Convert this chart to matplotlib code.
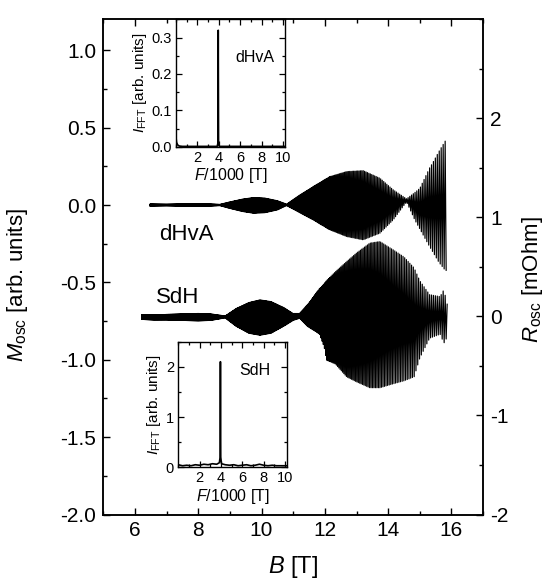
import numpy as np
import matplotlib
matplotlib.use('Agg')
import matplotlib.pyplot as plt
from matplotlib.ticker import MultipleLocator, FormatStrFormatter

plt.rcParams['font.family'] = ['Liberation Sans', 'DejaVu Sans']
plt.rcParams['mathtext.fontset'] = 'custom'
plt.rcParams['mathtext.rm'] = 'Liberation Sans'
plt.rcParams['mathtext.it'] = 'Liberation Sans:italic'
plt.rcParams['axes.unicode_minus'] = False

# ---- oscillation frequency (peak of the FFT, in T) ----
F_OSC = 3950.0

# ---- dHvA envelope, M_osc [arb. units] vs B [T] ----
dhva_B = [6.47, 7.0, 7.5, 8.0, 8.4, 8.68, 9.0, 9.4, 9.74, 10.1, 10.5, 10.79,
          11.21, 11.63, 12.15, 12.69, 13.21, 13.74, 14.16, 14.58, 14.84, 15.0,
          15.31, 15.4, 15.6, 15.81, 15.85]
dhva_top = [0.006, 0.005, 0.007, 0.008, 0.007, 0.004, 0.02, 0.038, 0.048, 0.045,
            0.028, 0.006, 0.065, 0.119, 0.183, 0.216, 0.222, 0.173, 0.098, 0.04,
            0.08, 0.108, 0.24, 0.27, 0.345, 0.416, 0.40]
dhva_bot = [-0.006, -0.005, -0.007, -0.008, -0.007, -0.004, -0.022, -0.042, -0.053,
            -0.05, -0.032, -0.004, -0.05, -0.096, -0.16, -0.204, -0.225, -0.182,
            -0.096, 0.02, -0.096, -0.155, -0.27, -0.30, -0.37, -0.424, -0.42]

# ---- SdH envelope, R_osc [mOhm] vs B [T] ----
sdh_B = [6.21, 6.6, 7.0, 7.5, 8.0, 8.4, 8.85, 9.2, 9.6, 9.95, 10.3, 10.7, 11.0,
         11.2, 11.45, 11.84, 11.98, 12.05, 12.33, 12.69, 13.0, 13.42, 13.74, 14.16,
         14.5, 14.82, 15.0, 15.31, 15.64, 15.76, 15.88]
sdh_top = [0.015, 0.015, 0.02, 0.025, 0.03, 0.025, 0.005, 0.08, 0.14, 0.167, 0.15,
           0.09, 0.03, 0.03, 0.12, 0.285, 0.33, 0.36, 0.45, 0.554, 0.64, 0.74,
           0.756, 0.672, 0.6, 0.49, 0.36, 0.22, 0.2, 0.27, 0.1]
sdh_bot = [-0.03, -0.035, -0.035, -0.04, -0.045, -0.04, -0.015, -0.1, -0.17, -0.19,
           -0.17, -0.1, -0.04, -0.02, -0.1, -0.18, -0.31, -0.44, -0.48, -0.61, -0.66,
           -0.72, -0.72, -0.68, -0.65, -0.61, -0.42, -0.22, -0.18, -0.27, -0.2]

# ---- FFT spectra (F/1000 [T], intensity [arb. units]) ----
fft_dhva_F = [0.0, 0.05, 0.15, 0.3, 0.6, 3.85, 3.92, 3.95, 3.98, 4.05, 10.2]
fft_dhva_I = [0.025, 0.012, 0.005, 0.002, 0.001, 0.001, 0.01, 0.32, 0.01, 0.001, 0.001]

fft_sdh_F = [0.0, 0.4, 0.8, 1.2, 1.6, 2.0, 2.4, 2.8, 3.2, 3.6, 3.85, 3.92, 3.95,
             3.98, 4.05, 4.4, 4.8, 5.2, 5.6, 6.0, 6.4, 6.8, 7.2, 7.6, 8.0, 8.4,
             8.8, 9.2, 9.6, 10.0, 10.2]
fft_sdh_I = [0.05, 0.03, 0.04, 0.03, 0.05, 0.04, 0.06, 0.05, 0.07, 0.06, 0.09,
             0.2, 2.1, 0.2, 0.07, 0.05, 0.04, 0.05, 0.03, 0.04, 0.05, 0.03, 0.04,
             0.06, 0.04, 0.03, 0.04, 0.03, 0.03, 0.03, 0.03]


def trace(bk, top, bot):
    # zigzag between envelopes at the extrema B_k = 2F/k
    bk = np.asarray(bk)
    k = np.arange(int(np.ceil(2 * F_OSC / bk[-1])), int(np.floor(2 * F_OSC / bk[0])) + 1)
    b = 2 * F_OSC / k
    hi = np.interp(b, bk, top)
    lo = np.interp(b, bk, bot)
    y = np.where(k % 2 == 0, hi, lo)
    order = np.argsort(b)
    return b[order], y[order]


fig = plt.figure(figsize=(5.45, 5.87), dpi=100)
ax = fig.add_axes([0.1895, 0.1235, 0.697, 0.8436])
ax2 = ax.twinx()

b1, m1 = trace(dhva_B, dhva_top, dhva_bot)
ax.plot(b1, m1, color='black', lw=0.85)
b2, r2 = trace(sdh_B, sdh_top, sdh_bot)
ax2.plot(b2, r2, color='black', lw=0.85)

ax.set_xlim(5, 17)
ax.set_ylim(-2.0, 1.2)
ax2.set_ylim(-2, 3)
ax.set_xticks([6, 8, 10, 12, 14, 16])
ax.xaxis.set_minor_locator(MultipleLocator(1))
ax.set_yticks(np.arange(-2.0, 1.01, 0.5))
ax.yaxis.set_major_formatter(FormatStrFormatter('%.1f'))
ax.yaxis.set_minor_locator(MultipleLocator(0.25))
ax2.set_yticks([-2, -1, 0, 1, 2])
ax2.yaxis.set_minor_locator(MultipleLocator(0.5))

ax.tick_params(which='both', direction='in', top=True, right=False, labelsize=15, width=1)
ax.tick_params(which='major', length=5, pad=5)
ax.tick_params(which='minor', length=3)
ax2.tick_params(which='both', direction='in', labelsize=15, width=1)
ax2.tick_params(which='major', length=5, pad=5)
ax2.tick_params(which='minor', length=3)
for a in (ax, ax2):
    for s in a.spines.values():
        s.set_linewidth(1.1)

ax.set_xlabel(r'$B$ [T]', fontsize=17, labelpad=10)
ax.set_ylabel(r'$M_{\rm osc}$ [arb. units]', fontsize=16)
ax.yaxis.set_label_coords(-0.193, 0.464)
ax2.set_ylabel(r'$R_{\rm osc}$ [mOhm]', fontsize=16)
ax2.yaxis.set_label_coords(1.097, 0.474)

ax.text(7.61, -0.193, 'dHvA', fontsize=16, ha='center', va='center')
ax.text(7.36, -0.599, 'SdH', fontsize=16, ha='center', va='center')

# ---- insets with the FFT spectra ----
ins1 = fig.add_axes([0.323, 0.75, 0.2, 0.217])
ins1.plot(fft_dhva_F, fft_dhva_I, color='black', lw=1.2)
ins1.set_xlim(0, 10.2)
ins1.set_ylim(0, 0.35)
ins1.set_yticks([0.0, 0.1, 0.2, 0.3])
ins1.yaxis.set_major_formatter(FormatStrFormatter('%.1f'))
ins1.yaxis.set_minor_locator(MultipleLocator(0.05))
ins1.text(0.725, 0.7, 'dHvA', transform=ins1.transAxes, fontsize=11.5,
          ha='center', va='center')

ins2 = fig.add_axes([0.327, 0.204, 0.2, 0.214])
ins2.plot(fft_sdh_F, fft_sdh_I, color='black', lw=1.2)
ins2.set_xlim(0, 10.2)
ins2.set_ylim(0, 2.5)
ins2.set_yticks([0, 1, 2])
ins2.yaxis.set_minor_locator(MultipleLocator(0.5))
ins2.text(0.70, 0.77, 'SdH', transform=ins2.transAxes, fontsize=11.5,
          ha='center', va='center')

for a in (ins1, ins2):
    a.set_xticks([2, 4, 6, 8, 10])
    a.xaxis.set_minor_locator(MultipleLocator(1))
    a.tick_params(which='both', direction='in', top=True, right=True,
                  labelsize=10.5, width=0.9, pad=3)
    a.tick_params(which='major', length=4)
    a.tick_params(which='minor', length=2)
    a.set_xlabel(r'$F$/1000 [T]', fontsize=11.5, labelpad=1)
    a.set_ylabel(r'$I_{\rm FFT}$ [arb. units]', fontsize=11, labelpad=2)
    a.set_facecolor('white')
    for s in a.spines.values():
        s.set_linewidth(1.0)

fig.savefig('out.png', dpi=100)
